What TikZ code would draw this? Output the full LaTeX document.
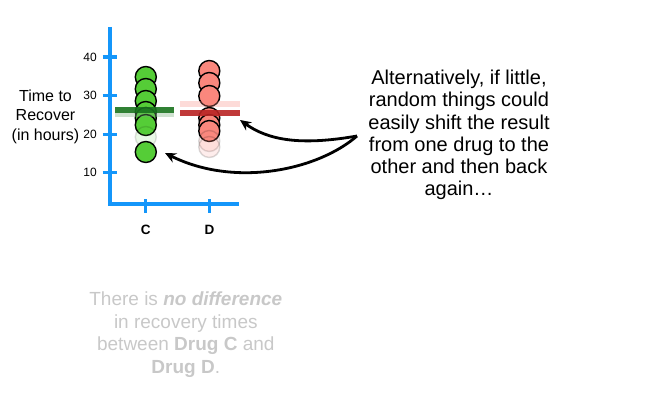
\documentclass[tikz,border=0pt]{standalone}
\usepackage{fontspec}
\setmainfont{Liberation Sans}
\usetikzlibrary{arrows.meta}
\definecolor{axisblue}{RGB}{20,150,250}
\definecolor{cgreen}{RGB}{85,205,55}
\definecolor{dgreen}{RGB}{25,115,30}
\definecolor{cred}{RGB}{250,135,125}
\definecolor{dred}{RGB}{185,35,35}
\definecolor{softgray}{RGB}{200,200,200}
\begin{document}
\begin{tikzpicture}[x=1pt,y=-1pt,
  axisline/.style={axisblue, line width=3.5pt},
  ticklab/.style={font=\fontsize{12}{13}\selectfont, anchor=east, inner sep=0pt},
  catlab/.style={font=\fontsize{13.5}{15}\selectfont\bfseries, inner sep=0pt},
  gdot/.style={circle, draw=black, line width=1.4pt, fill=cgreen, minimum size=21pt, inner sep=0pt},
  rdot/.style={circle, draw=black, line width=1.4pt, fill=cred, minimum size=21pt, inner sep=0pt},
  gfaint/.style={gdot, opacity=0.12},
  rfaint/.style={rdot, opacity=0.15},
  arr/.style={-{Stealth[length=11pt,width=10pt]}, line width=2.8pt, black},
]
\useasboundingbox (0,0) rectangle (645,401);
% axes
\coordinate (otop) at (110,27);
\coordinate (orig) at (110,204);
\coordinate (xend) at (239,204);
\draw[axisline] (otop) -- (orig) -- (xend);
\foreach \v/\yy in {40/57,30/95.7,20/134.3,10/172.7}{
  \draw[axisline] (102.5,\yy) -- (117,\yy);
  \node[ticklab] (t\v) at (97,\yy) {\v};
}
\draw[axisline] (145.7,199) -- (145.7,213);
\draw[axisline] (209.5,199) -- (209.5,213);
\node[catlab] (labC) at (145.7,229.5) {C};
\node[catlab] (labD) at (209.5,229.5) {D};
\node[align=center, font=\fontsize{16}{19.5}\selectfont, inner sep=0pt] (ylab) at (45.5,116.5) {Time to\\Recover\\(in hours)};
% green column
\foreach \yy [count=\i] in {77,89,101,112,118,125}{
  \node[gdot] (g\i) at (145.8,\yy) {};
}
\node[gfaint] (gf) at (145.8,137) {};
\node[gdot] (g7) at (145.8,152) {};
% red column
\foreach \yy [count=\i] in {71,83,96,118,125,131}{
  \node[rdot] (r\i) at (209.3,\yy) {};
}
\node[rfaint] (rf1) at (209.3,141) {};
\node[rfaint] (rf2) at (209.3,147) {};
% mean lines
\draw[dgreen!60, line width=4pt, opacity=0.35] (115,115.5) -- (173.5,115.5);
\draw[dgreen, line width=5.5pt, opacity=0.9] (115,110) -- (173.5,110);
\draw[cred, line width=6pt, opacity=0.3] (180,104.5) -- (239.5,104.5);
\draw[dred, line width=5.5pt, opacity=0.9] (180,113) -- (239.5,113);
% text
\node[align=center, font=\fontsize{20}{22.2}\selectfont, inner sep=0pt] (txt) at (459,135)
  {Alternatively, if little,\\random things could\\easily shift the result\\from one drug to the\\other and then back\\again\dots};
\coordinate (src) at (357,136);
\coordinate (tipR) at (240,120);
\coordinate (tipG) at (165,153);
\draw[arr] (src) .. controls (300,146) and (268,140) .. (tipR);
\draw[arr] (src) .. controls (318,170) and (235,188) .. (tipG);
% bottom text
\node[align=center, text=softgray, font=\fontsize{19}{22.5}\selectfont, inner sep=0pt] (concl) at (185.8,334.5)
  {There is \textbf{\textit{no difference}}\\in recovery times\\between \textbf{Drug C} and\\\textbf{Drug D}.};
\end{tikzpicture}
\end{document}
